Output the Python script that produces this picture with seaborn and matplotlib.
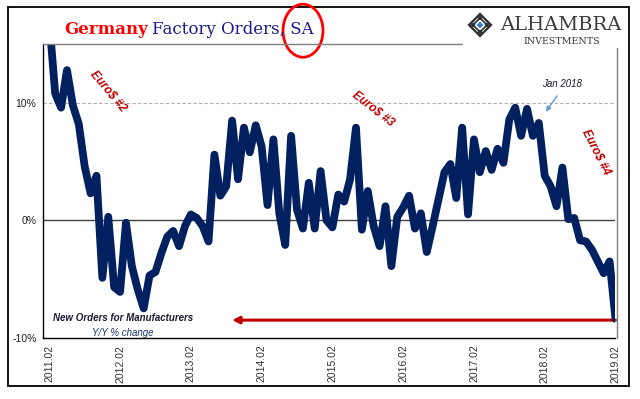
import numpy as np
import pandas as pd
import matplotlib
matplotlib.use("Agg")
import matplotlib.pyplot as plt
from matplotlib.patches import Ellipse, Polygon, Rectangle
from matplotlib.lines import Line2D
import seaborn as sns

# Germany factory orders, y/y % change, monthly 2011.01 - 2019.02
orders_yoy = [
    20.0, 17.0, 10.8, 9.6, 12.8, 9.8, 8.2, 4.6, 2.3, 3.8,
    -4.9, 0.3, -5.7, -6.1, -0.2, -3.9, -5.9, -7.5, -4.7, -4.4,
    -2.8, -1.4, -0.9, -2.2, -0.5, 0.5, 0.2, -0.5, -1.8, 5.6,
    2.1, 2.9, 8.5, 3.5, 7.9, 5.8, 8.1, 6.3, 1.3, 6.9,
    0.6, -2.1, 7.2, 0.9, -0.7, 3.2, -0.7, 4.2, 0.0, -0.6,
    2.2, 1.6, 3.5, 7.9, -0.8, 2.5, -0.5, -2.2, 1.2, -3.9,
    0.3, 1.1, 2.1, -0.7, 0.6, -2.7, -0.5, 1.8, 4.1, 4.8,
    1.9, 7.9, 0.5, 6.9, 4.1, 5.9, 4.3, 6.1, 4.9, 8.6,
    9.6, 7.2, 9.5, 7.2, 8.3, 3.8, 2.9, 1.2, 4.5, 0.1,
    0.2, -1.7, -1.8, -2.5, -3.5, -4.5, -3.5, -8.4,
]
months = pd.date_range("2011-01-01", periods=len(orders_yoy), freq="MS")
y_ticks = [-10, 0, 10]
y_tick_labels = ["-10%", "0%", "10%"]

df = pd.DataFrame({"idx": np.arange(len(orders_yoy)), "yoy": orders_yoy})
tick_pos = [i for i, m in enumerate(months) if m.month == 2]
tick_labels = [months[i].strftime("%Y.%m") for i in tick_pos]

sns.set_style("white")
plt.rcParams["font.family"] = ["Liberation Sans", "DejaVu Sans"]

NAVY = "#002060"
RED = "#C00000"

fig = plt.figure(figsize=(6.4, 3.99), dpi=100)
ax = fig.add_axes([0.0678, 0.1536, 0.8939, 0.7354])

ax.axhline(10, color="#b0b0b0", lw=0.8, ls=(0, (3, 2)), zorder=1)
ax.axhline(0, color="#404040", lw=1.0, zorder=1)

sns.lineplot(data=df, x="idx", y="yoy", color=NAVY, linewidth=5.6, ax=ax, zorder=3)
for ln in ax.lines[2:]:
    ln.set_solid_joinstyle("round")
    ln.set_solid_capstyle("round")

ax.set_xlim(0, len(orders_yoy) - 1)
ax.set_ylim(-10, 15)
ax.set_xticks(tick_pos)
ax.set_xticklabels(tick_labels, rotation=90, fontsize=7.5, color="#303030")
ax.set_yticks(y_ticks)
ax.set_yticklabels(y_tick_labels, fontsize=7.5, color="#202020")
ax.tick_params(axis="both", direction="out", length=3, width=0.8, color="#303030", pad=2)
ax.set_xlabel("")
ax.set_ylabel("")
for s in ["top", "right"]:
    ax.spines[s].set_visible(False)
for s in ["left", "bottom"]:
    ax.spines[s].set_color("black")
    ax.spines[s].set_linewidth(1.0)

# annotations
ax.annotate("", xy=(32, -8.5), xytext=(97, -8.5),
            arrowprops=dict(arrowstyle="-|>", color=RED, lw=2.2,
                            mutation_scale=10, shrinkA=0, shrinkB=0), zorder=2)
ax.text(13.5, -8.36, "New Orders for Manufacturers", fontsize=7, fontweight="bold",
        style="italic", color="#1a1a33", ha="center", va="center")
ax.text(13.5, -9.56, "Y/Y % change", fontsize=7, style="italic", color="#1F3864",
        ha="center", va="center")

euro = dict(fontsize=8.5, fontweight="bold", style="italic", color=RED,
            ha="center", va="center", rotation_mode="anchor")
ax.text(11.0, 11.0, "Euro$ #2", rotation=-50, **euro)
ax.text(55.9, 9.5, "Euro$ #3", rotation=-38, **euro)
ax.text(93.7, 5.8, "Euro$ #4", rotation=-63, **euro)

ax.text(87.9, 11.6, "Jan 2018", fontsize=7, style="italic", color="#1a1a33",
        ha="center", va="center")
ax.annotate("", xy=(85.2, 9.26), xytext=(87.1, 10.6),
            arrowprops=dict(arrowstyle="-|>", color="#5B9BD5", lw=1.0,
                            mutation_scale=7, shrinkA=0, shrinkB=0))

# overlay in pixel coordinates for frame, title and logo
ov = fig.add_axes([0, 0, 1, 1], zorder=5)
ov.set_xlim(0, 640)
ov.set_ylim(399, 0)
ov.axis("off")
ov.patch.set_alpha(0)

ov.add_patch(Rectangle((8, 7), 621, 379, fill=False, ec="black", lw=1.3))
ov.add_line(Line2D([43.4, 462], [44.3, 44.3], color="#808080", lw=1.0))
ov.add_line(Line2D([616.5, 616.5], [48, 337.7], color="#808080", lw=1.0))

t1 = ov.text(64, 30, "Germany", fontsize=12, fontweight="bold", color="#FF0000",
             family="DejaVu Serif", ha="left", va="center")
fig.canvas.draw()
bb = t1.get_window_extent()
x_next = bb.x1 + 4
fig.text(x_next / 640, 1 - 30 / 399, "Factory Orders, SA", fontsize=12, color="#1a1a8c",
         family="DejaVu Serif", ha="left", va="center", zorder=6)

ov.add_patch(Ellipse((303, 30.7), 40, 53, fill=False, ec="#FF0000", lw=2.0))

# logo
cx, cy, r = 480, 25, 11
ov.add_patch(Polygon([(cx, cy - r), (cx + r, cy), (cx, cy + r), (cx - r, cy)],
                     closed=True, fill=False, ec="#2b2b2b", lw=1.6))
r2 = 7
ov.add_patch(Polygon([(cx, cy - r2), (cx + r2, cy), (cx, cy + r2), (cx - r2, cy)],
                     closed=True, fill=False, ec="#2b2b2b", lw=1.2))
for dx, dy in [(0, -7), (7, 0), (0, 7), (-7, 0)]:
    q = 2.5
    ov.add_patch(Polygon([(cx + dx, cy + dy - q), (cx + dx + q, cy + dy),
                          (cx + dx, cy + dy + q), (cx + dx - q, cy + dy)],
                         closed=True, fc="#2b2b2b", ec="none"))
q = 3.5
ov.add_patch(Polygon([(cx, cy - q), (cx + q, cy), (cx, cy + q), (cx - q, cy)],
                     closed=True, fc="#3a7dc9", ec="none"))
ov.text(561, 25, "ALHAMBRA", fontsize=14, color="#3a3a3a", family="DejaVu Serif",
        ha="center", va="center")
ov.text(562, 42, "INVESTMENTS", fontsize=6.8, color="#3a3a3a", family="DejaVu Serif",
        ha="center", va="center")

fig.savefig("out.png", dpi=100)
